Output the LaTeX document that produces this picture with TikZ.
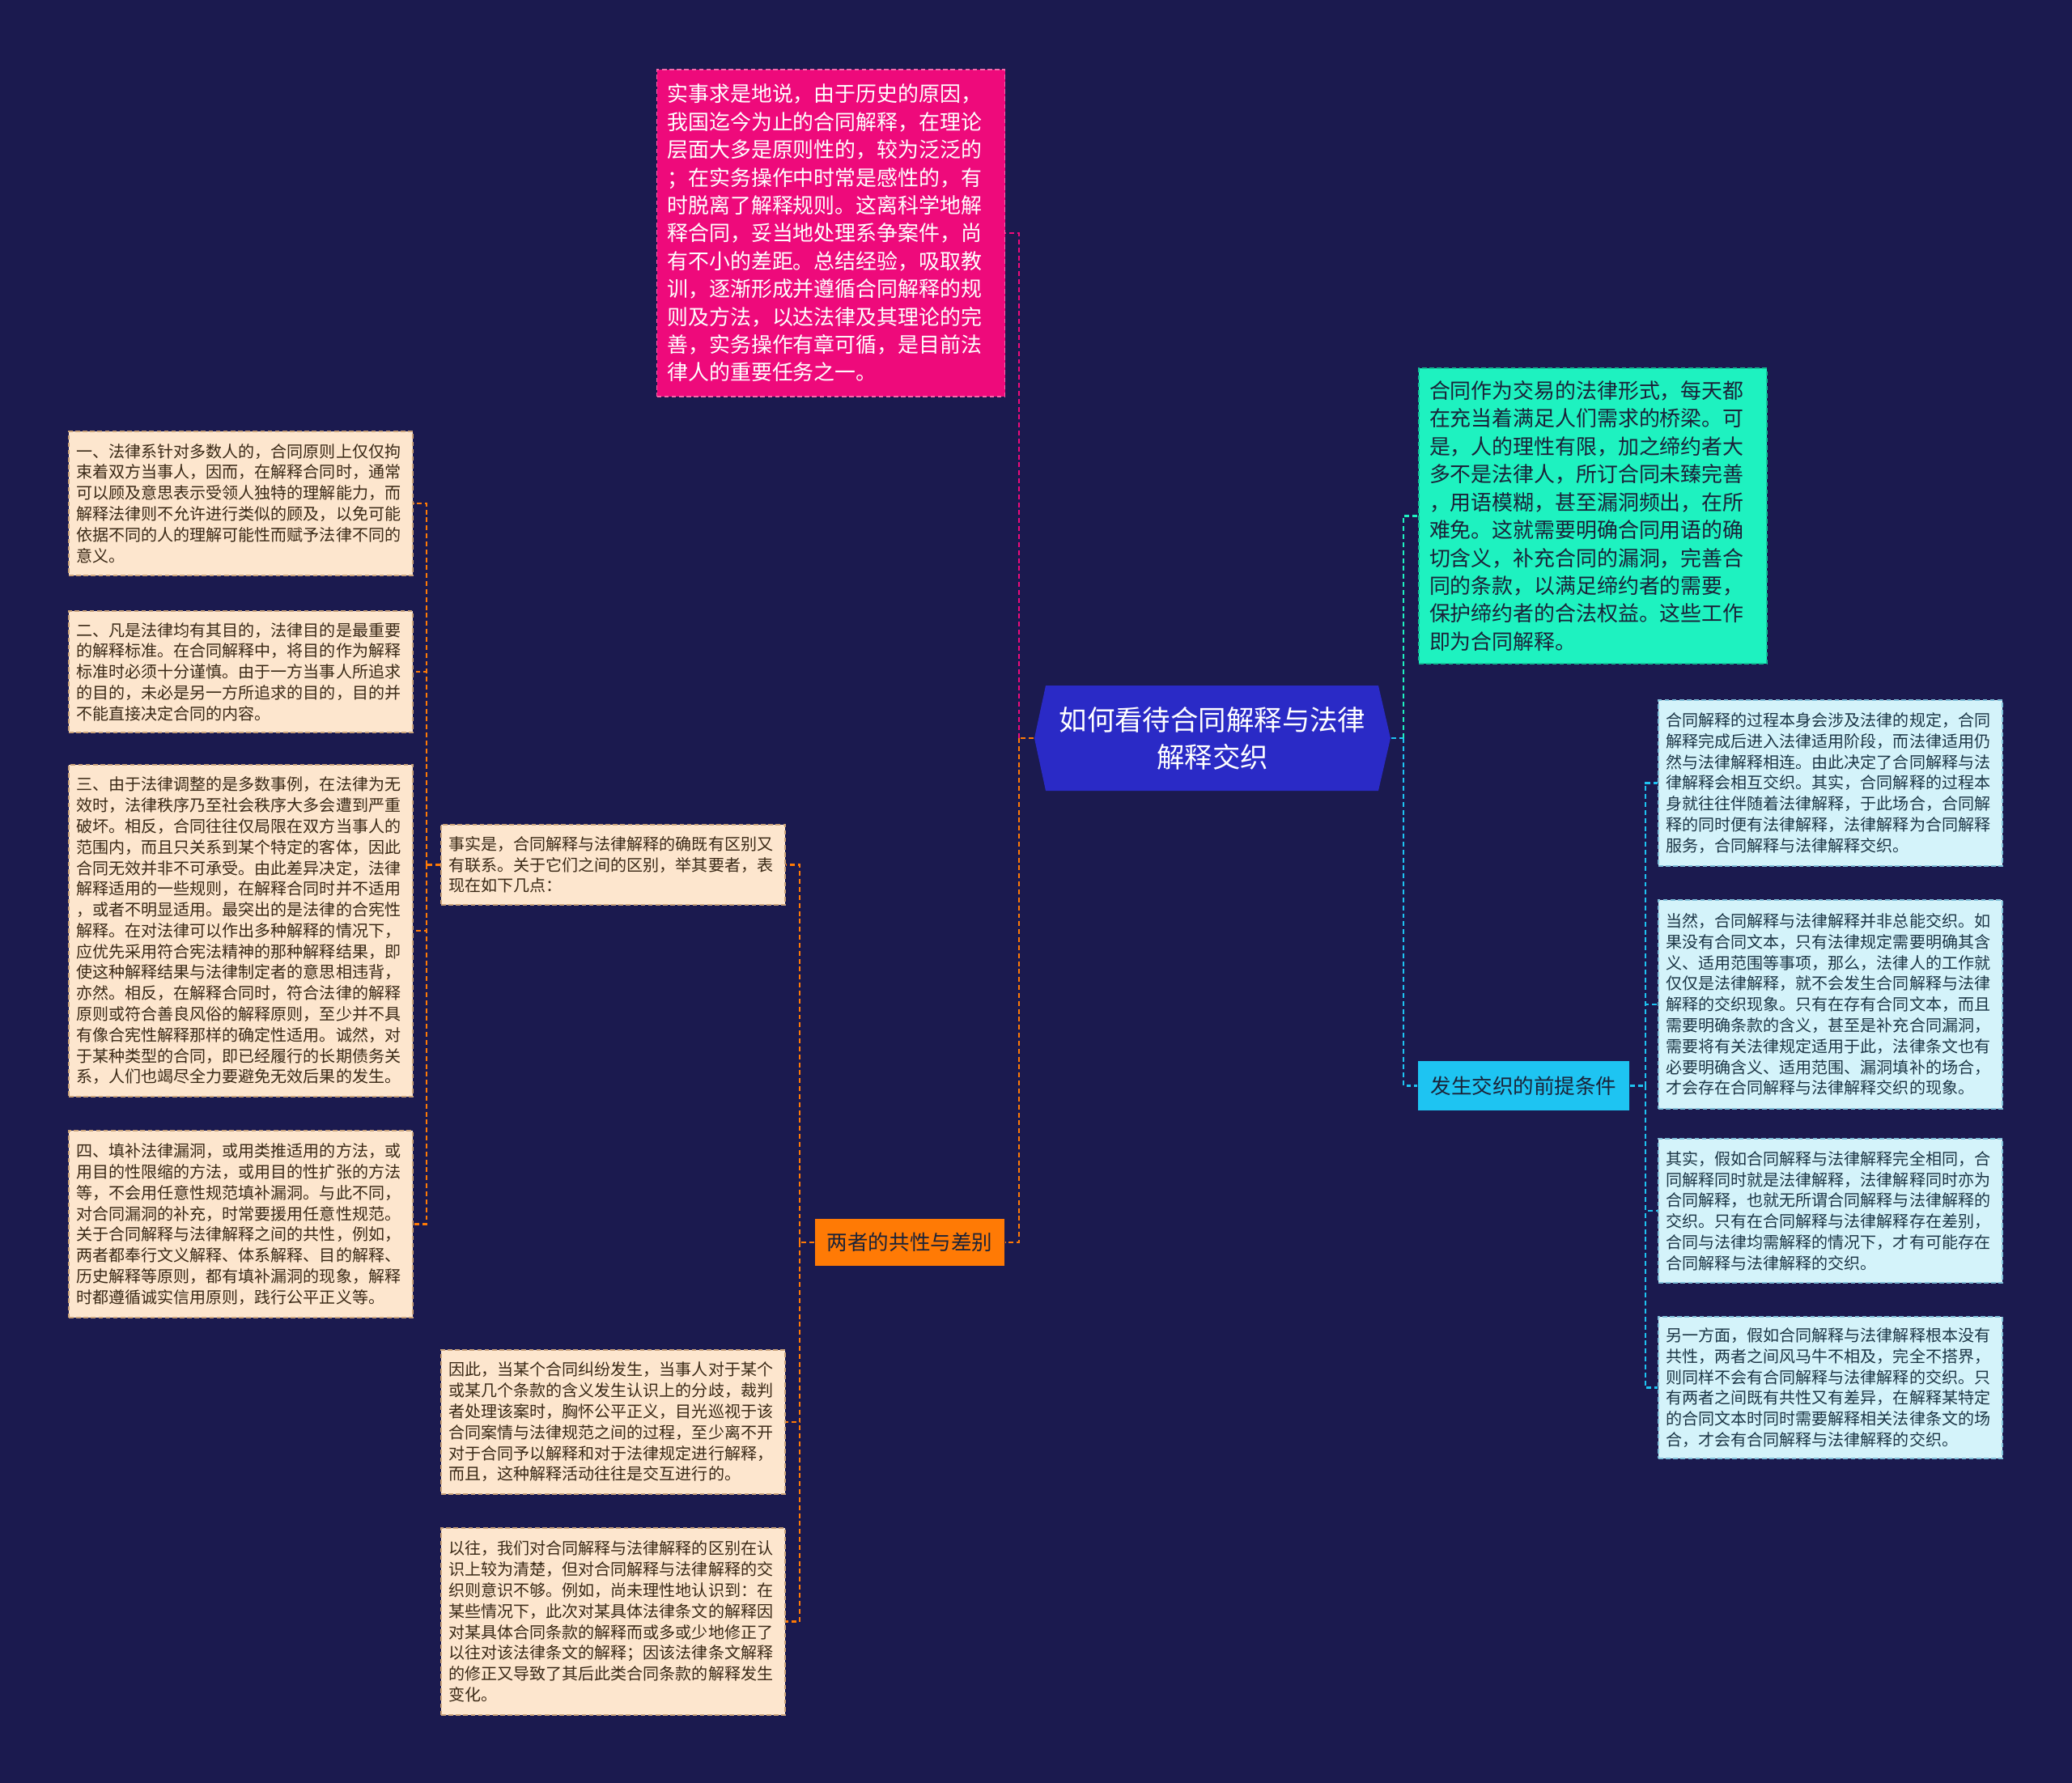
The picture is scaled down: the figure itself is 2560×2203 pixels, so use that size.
\documentclass[tikz,border=0pt]{standalone}
\usepackage{fontspec}
\setmainfont{Noto Sans CJK SC}
\usepackage{xcolor}
\usetikzlibrary{calc}

\definecolor{navybg}{HTML}{1B1A4F}
\definecolor{hubfill}{HTML}{2A2AC6}
\definecolor{pinkfill}{HTML}{EE0A7B}
\definecolor{pinkedge}{HTML}{F768AA}
\definecolor{greenfill}{HTML}{1EF2C0}
\definecolor{greenedge}{HTML}{12BE96}
\definecolor{orangefill}{HTML}{FF7A05}
\definecolor{cyanfill}{HTML}{1EC4F2}
\definecolor{peachfill}{HTML}{FDE6CE}
\definecolor{peachedge}{HTML}{C9A27A}
\definecolor{peachtext}{HTML}{3A2916}
\definecolor{icefill}{HTML}{D4F3FA}
\definecolor{iceedge}{HTML}{7FBFD8}
\definecolor{icetext}{HTML}{1C3646}
\definecolor{darktext}{HTML}{1A2238}

\begin{document}
\begin{tikzpicture}[
  x=0.1mm,y=-0.1mm,
  leaf/.style={draw=peachedge, dash pattern=on 1.6pt off 1pt, line width=0.5pt, fill=peachfill, text=peachtext,
    align=left, inner sep=0pt, text width=40.6mm, minimum width=42.5mm, font=\fontsize{5.7}{7.34}\selectfont},
  iceleaf/.style={leaf, draw=iceedge, fill=icefill, text=icetext},
  bigbox/.style={draw=#1, dash pattern=on 1.6pt off 1pt, line width=0.5pt, align=left, inner sep=0pt,
    text width=40.4mm, minimum width=43mm, font=\fontsize{7.37}{9.79}\selectfont},
  branch/.style={fill=#1, text=darktext, inner sep=0pt, minimum height=6mm, font=\fontsize{7.26}{9}\selectfont},
  link/.style={draw=#1, line width=0.6pt, dash pattern=on 1.7pt off 1.1pt}
]
\fill[navybg] (0,0) rectangle (2560,2203);

% Centre topic.
\fill[hubfill] (1278,912) -- (1292,847) -- (1703,847) -- (1718,912) -- (1703,977) -- (1292,977) -- cycle;
\node[align=center, text=white, inner sep=0pt, minimum width=44mm, minimum height=13mm,
  font=\fontsize{9.79}{13.1}\selectfont] (hub) at (1498,912) {如何看待合同解释与法律\\解释交织};

% Upper left and right notes.
\node[bigbox=pinkedge, fill=pinkfill, text=white, minimum height=40.4mm] (practice) at (1026.5,288) {实事求是地说，由于历史的原因，\\我国迄今为止的合同解释，在理论\\层面大多是原则性的，较为泛泛的\\；在实务操作中时常是感性的，有\\时脱离了解释规则。这离科学地解\\释合同，妥当地处理系争案件，尚\\有不小的差距。总结经验，吸取教\\训，逐渐形成并遵循合同解释的规\\则及方法，以达法律及其理论的完\\善，实务操作有章可循，是目前法\\律人的重要任务之一。};
\node[bigbox=greenedge, fill=greenfill, text=darktext, minimum height=36.5mm] (purpose) at (1968,637.5) {合同作为交易的法律形式，每天都\\在充当着满足人们需求的桥梁。可\\是，人的理性有限，加之缔约者大\\多不是法律人，所订合同未臻完善\\，用语模糊，甚至漏洞频出，在所\\难免。这就需要明确合同用语的确\\切含义，补充合同的漏洞，完善合\\同的条款，以满足缔约者的需要，\\保护缔约者的合法权益。这些工作\\即为合同解释。};

% Branch nodes.
\node[branch=orangefill, minimum width=23.4mm, minimum height=5.8mm] (common) at (1124,1535) {两者的共性与差别};
\node[branch=cyanfill, minimum width=26.1mm, minimum height=6.1mm] (premise) at (1882.5,1341.5) {发生交织的前提条件};

% Differences.
\node[leaf, minimum height=9.9mm] (diff) at (757.5,1068.5) {事实是，合同解释与法律解释的确既有区别又\\有联系。关于它们之间的区别，举其要者，表\\现在如下几点：};
\node[leaf, minimum height=17.8mm] (diffA) at (297.5,622) {一、法律系针对多数人的，合同原则上仅仅拘\\束着双方当事人，因而，在解释合同时，通常\\可以顾及意思表示受领人独特的理解能力，而\\解释法律则不允许进行类似的顾及，以免可能\\依据不同的人的理解可能性而赋予法律不同的\\意义。};
\node[leaf, minimum height=15mm] (diffB) at (297.5,830) {二、凡是法律均有其目的，法律目的是最重要\\的解释标准。在合同解释中，将目的作为解释\\标准时必须十分谨慎。由于一方当事人所追求\\的目的，未必是另一方所追求的目的，目的并\\不能直接决定合同的内容。};
\node[leaf, minimum height=41mm] (diffC) at (297.5,1150) {三、由于法律调整的是多数事例，在法律为无\\效时，法律秩序乃至社会秩序大多会遭到严重\\破坏。相反，合同往往仅局限在双方当事人的\\范围内，而且只关系到某个特定的客体，因此\\合同无效并非不可承受。由此差异决定，法律\\解释适用的一些规则，在解释合同时并不适用\\，或者不明显适用。最突出的是法律的合宪性\\解释。在对法律可以作出多种解释的情况下，\\应优先采用符合宪法精神的那种解释结果，即\\使这种解释结果与法律制定者的意思相违背，\\亦然。相反，在解释合同时，符合法律的解释\\原则或符合善良风俗的解释原则，至少并不具\\有像合宪性解释那样的确定性适用。诚然，对\\于某种类型的合同，即已经履行的长期债务关\\系，人们也竭尽全力要避免无效后果的发生。};
\node[leaf, minimum height=23.1mm] (diffD) at (297.5,1512.5) {四、填补法律漏洞，或用类推适用的方法，或\\用目的性限缩的方法，或用目的性扩张的方法\\等，不会用任意性规范填补漏洞。与此不同，\\对合同漏洞的补充，时常要援用任意性规范。\\关于合同解释与法律解释之间的共性，例如，\\两者都奉行文义解释、体系解释、目的解释、\\历史解释等原则，都有填补漏洞的现象，解释\\时都遵循诚实信用原则，践行公平正义等。};
\node[leaf, minimum height=17.8mm] (mutual) at (757.5,1757) {因此，当某个合同纠纷发生，当事人对于某个\\或某几个条款的含义发生认识上的分歧，裁判\\者处理该案时，胸怀公平正义，目光巡视于该\\合同案情与法律规范之间的过程，至少离不开\\对于合同予以解释和对于法律规定进行解释，\\而且，这种解释活动往往是交互进行的。};
\node[leaf, minimum height=23.1mm] (pastview) at (757.5,2003.5) {以往，我们对合同解释与法律解释的区别在认\\识上较为清楚，但对合同解释与法律解释的交\\织则意识不够。例如，尚未理性地认识到：在\\某些情况下，此次对某具体法律条文的解释因\\对某具体合同条款的解释而或多或少地修正了\\以往对该法律条文的解释；因该法律条文解释\\的修正又导致了其后此类合同条款的解释发生\\变化。};

% Preconditions.
\node[iceleaf, minimum height=20.5mm] (weave) at (2261.5,967.5) {合同解释的过程本身会涉及法律的规定，合同\\解释完成后进入法律适用阶段，而法律适用仍\\然与法律解释相连。由此决定了合同解释与法\\律解释会相互交织。其实，合同解释的过程本\\身就往往伴随着法律解释，于此场合，合同解\\释的同时便有法律解释，法律解释为合同解释\\服务，合同解释与法律解释交织。};
\node[iceleaf, minimum height=25.8mm] (notalways) at (2261.5,1241) {当然，合同解释与法律解释并非总能交织。如\\果没有合同文本，只有法律规定需要明确其含\\义、适用范围等事项，那么，法律人的工作就\\仅仅是法律解释，就不会发生合同解释与法律\\解释的交织现象。只有在存有合同文本，而且\\需要明确条款的含义，甚至是补充合同漏洞，\\需要将有关法律规定适用于此，法律条文也有\\必要明确含义、适用范围、漏洞填补的场合，\\才会存在合同解释与法律解释交织的现象。};
\node[iceleaf, minimum height=17.8mm] (same) at (2261.5,1496) {其实，假如合同解释与法律解释完全相同，合\\同解释同时就是法律解释，法律解释同时亦为\\合同解释，也就无所谓合同解释与法律解释的\\交织。只有在合同解释与法律解释存在差别，\\合同与法律均需解释的情况下，才有可能存在\\合同解释与法律解释的交织。};
\node[iceleaf, minimum height=17.5mm] (unrelated) at (2261.5,1714.5) {另一方面，假如合同解释与法律解释根本没有\\共性，两者之间风马牛不相及，完全不搭界，\\则同样不会有合同解释与法律解释的交织。只\\有两者之间既有共性又有差异，在解释某特定\\的合同文本时同时需要解释相关法律条文的场\\合，才会有合同解释与法律解释的交织。};

% Connectors.
\coordinate (lsplit) at (1259,912);
\coordinate (rsplit) at (1734,912);
\coordinate (osplit) at (988,1535);
\coordinate (msplit) at (527,1068.5);
\coordinate (csplit) at (2033,1341.5);
\draw[link=orangefill] (hub.west) -- (lsplit);
\draw[link=pinkfill] (lsplit) |- (practice.east);
\draw[link=orangefill] (lsplit) |- (common.east);
\draw[link=cyanfill] (hub.east) -- (rsplit);
\draw[link=greenfill] (rsplit) |- (purpose.west);
\draw[link=cyanfill] (rsplit) |- (premise.west);
\draw[link=orangefill] (common.west) -- (osplit);
\foreach \n in {diff,mutual,pastview} \draw[link=orangefill] (osplit) |- (\n.east);
\draw[link=orangefill] (diff.west) -- (msplit);
\foreach \n in {diffA,diffB,diffC,diffD} \draw[link=orangefill] (msplit) |- (\n.east);
\draw[link=cyanfill] (premise.east) -- (csplit);
\foreach \n in {weave,notalways,same,unrelated} \draw[link=cyanfill] (csplit) |- (\n.west);
\end{tikzpicture}
\end{document}
